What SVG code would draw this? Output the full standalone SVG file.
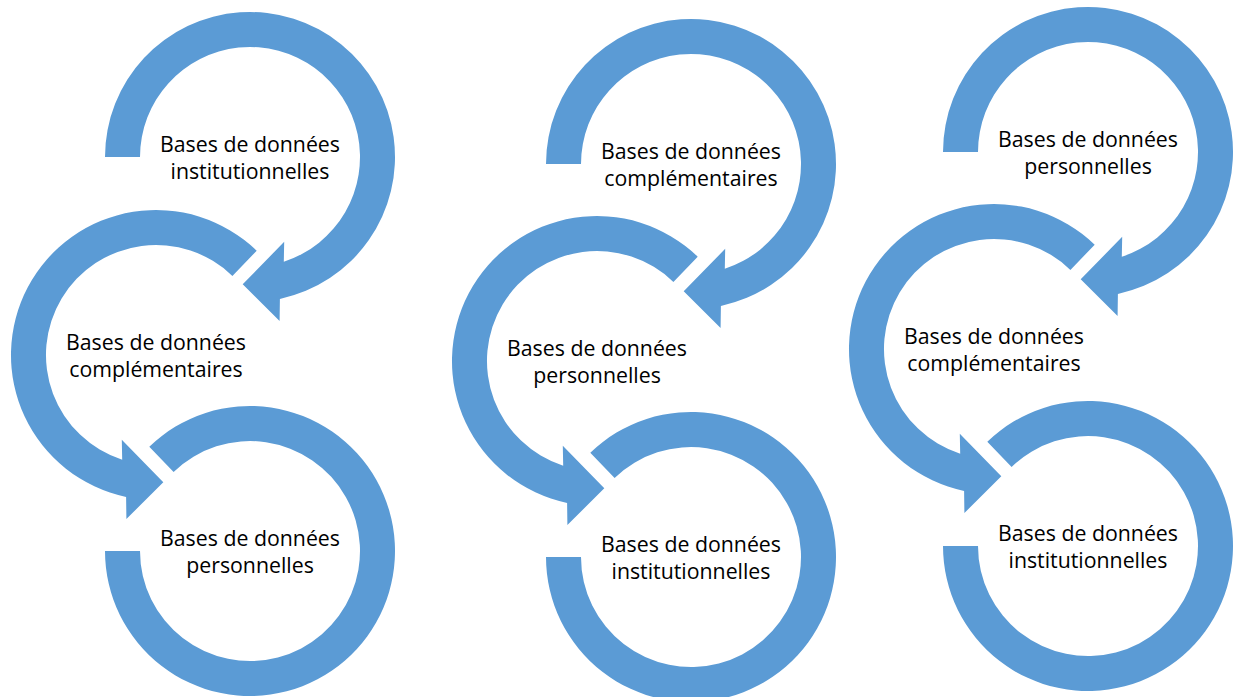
<svg xmlns="http://www.w3.org/2000/svg" xmlns:xlink="http://www.w3.org/1999/xlink" width="1233" height="697" viewBox="0 0 1233 697">
<style>
.ring{fill:#5B9BD5;}
.lbl{font-family:"Open Sans","Liberation Sans",Arial,sans-serif;font-size:21.3px;fill:#000;text-anchor:middle;}
</style>
<defs>
<path id="arrowCW" d="M -145 0 A 145 145 0 1 1 29.9 141.9 L 29.6 164 L -7.3 127.3 L 34.2 84.8 L 33.8 104.7 A 110 110 0 1 0 -110 0 Z"/>
<path id="arrowCCW" d="M 100.7 -104.3 A 145 145 0 1 0 -29.9 141.9 L -29.6 164 L 7.3 127.3 L -34.2 84.8 L -33.8 104.7 A 110 110 0 1 1 76.4 -79.1 Z"/>
<path id="arcEnd" d="M -100.7 -104.3 A 145 145 0 1 1 -145 0 L -110 0 A 110 110 0 1 0 -76.4 -79.1 Z"/>
</defs>
<rect width="1233" height="697" fill="#fff"/>

<g id="col1-top" transform="translate(250,157)">
<use xlink:href="#arrowCW" class="ring"/>
<text class="lbl" x="0" y="-5.5">Bases de données</text>
<text class="lbl" x="0" y="22">institutionnelles</text>
</g>
<g id="col1-mid" transform="translate(156,355)">
<use xlink:href="#arrowCCW" class="ring"/>
<text class="lbl" x="0" y="-5.5">Bases de données</text>
<text class="lbl" x="0" y="22">complémentaires</text>
</g>
<g id="col1-bot" transform="translate(250,551)">
<use xlink:href="#arcEnd" class="ring"/>
<text class="lbl" x="0" y="-5.5">Bases de données</text>
<text class="lbl" x="0" y="22">personnelles</text>
</g>

<g id="col2-top" transform="translate(691,164)">
<use xlink:href="#arrowCW" class="ring"/>
<text class="lbl" x="0" y="-5.5">Bases de données</text>
<text class="lbl" x="0" y="22">complémentaires</text>
</g>
<g id="col2-mid" transform="translate(597,361)">
<use xlink:href="#arrowCCW" class="ring"/>
<text class="lbl" x="0" y="-5.5">Bases de données</text>
<text class="lbl" x="0" y="22">personnelles</text>
</g>
<g id="col2-bot" transform="translate(691,557)">
<use xlink:href="#arcEnd" class="ring"/>
<text class="lbl" x="0" y="-5.5">Bases de données</text>
<text class="lbl" x="0" y="22">institutionnelles</text>
</g>

<g id="col3-top" transform="translate(1088,152)">
<use xlink:href="#arrowCW" class="ring"/>
<text class="lbl" x="0" y="-5.5">Bases de données</text>
<text class="lbl" x="0" y="22">personnelles</text>
</g>
<g id="col3-mid" transform="translate(994,349)">
<use xlink:href="#arrowCCW" class="ring"/>
<text class="lbl" x="0" y="-5.5">Bases de données</text>
<text class="lbl" x="0" y="22">complémentaires</text>
</g>
<g id="col3-bot" transform="translate(1088,546)">
<use xlink:href="#arcEnd" class="ring"/>
<text class="lbl" x="0" y="-5.5">Bases de données</text>
<text class="lbl" x="0" y="22">institutionnelles</text>
</g>

<g id="connectors"></g>
</svg>
